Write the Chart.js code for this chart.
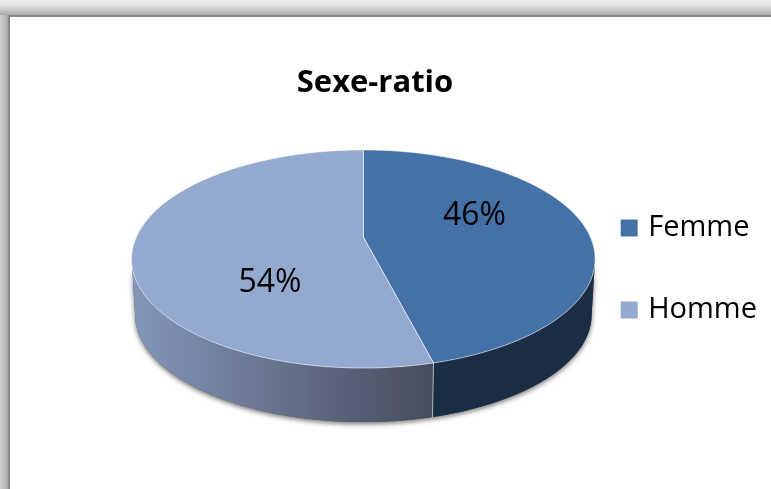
<!DOCTYPE html>
<html>
<head>
<meta charset="utf-8">
<title>Sexe-ratio</title>
<script src="https://cdn.jsdelivr.net/npm/chart.js@4/dist/chart.umd.min.js"></script>
<style>
html, body { margin: 0; height: 100%; overflow: hidden; background: #f2f2f2; }
#band-top { position: absolute; left: 0; top: 0; width: 771px; height: 15px; background: linear-gradient(#ececec, #e2e2e2 40%, #a8a8a8); }
#band-left { position: absolute; left: 0; top: 15px; width: 8px; height: 474px; background: linear-gradient(to right, #d2d2d2, #bcbcbc 60%, #a4a4a4); }
#frame { position: absolute; left: 8px; top: 15px; width: 780px; height: 500px; background: #fff; border: 2px solid #888; }
canvas { position: absolute; left: 0; top: 0; }
</style>
</head>
<body>
<div id="band-top"></div>
<div id="band-left"></div>
<div id="frame"></div>
<canvas id="pie" width="771" height="489"></canvas>
<script>
const categories = ['Femme', 'Homme'];
const shares = [46, 54];
const topColors = ['#4471A7', '#93A9CF'];
const wallColors = [['#1B2D45', '#1B2D45'], ['#464C5C', '#8396BA']];

// the disc is seen in perspective, so the centre sits above the middle of the ellipse
const view = { cy: 237, rx: 227, ry: 104.6, tilt: 0.2018, depth: 56, baseScale: 0.985 };
const labelSpots = [{ r: 0.5, dy: -15 }, { r: 0.41, dy: 40 }];

const project = (cx, theta, r = 1) => {
    const u = r * Math.sin(theta);
    const v = -r * Math.cos(theta);
    const den = 1 - view.tilt * v;
    return { x: cx + view.rx * u / den, y: view.cy + view.ry * v / den };
};

const projectBase = (cx, theta) => {
    const p = project(cx, theta);
    return {
        x: cx + (p.x - cx) * view.baseScale,
        y: view.cy + (p.y - view.cy) * view.baseScale + view.depth
    };
};

const trace = (ctx, fn, from, to, first) => {
    const steps = Math.max(2, Math.ceil(Math.abs(to - from) * 90));
    for (let i = 0; i <= steps; i++) {
        const p = fn(from + (to - from) * i / steps);
        if (i === 0 && first) ctx.moveTo(p.x, p.y);
        else ctx.lineTo(p.x, p.y);
    }
};

const pie3d = {
    id: 'pie3d',
    afterLayout(chart) {
        // title is centred on the plot and not on the canvas
        const title = chart.titleBlock;
        title.left = 0;
        title.right = 750;
    },
    beforeDatasetsDraw(chart) {
        const ctx = chart.ctx;
        const arcs = chart.getDatasetMeta(0).data;
        const cx = arcs[0].x;
        const top = t => project(cx, t);
        const base = t => projectBase(cx, t);
        const visFrom = Math.PI - Math.acos(view.tilt);
        const visTo = Math.PI + Math.acos(view.tilt);
        const spans = arcs.map(a => [a.startAngle + Math.PI / 2, a.endAngle + Math.PI / 2]);

        // soft shadow under the whole side wall
        ctx.save();
        ctx.shadowColor = 'rgba(0,0,0,0.55)';
        ctx.shadowBlur = 5;
        ctx.shadowOffsetY = 2;
        ctx.fillStyle = '#555';
        ctx.beginPath();
        trace(ctx, top, visFrom, visTo, true);
        trace(ctx, base, visTo, visFrom, false);
        ctx.closePath();
        ctx.fill();
        ctx.restore();

        // side walls
        spans.forEach((span, i) => {
            const from = Math.max(span[0], visFrom);
            const to = Math.min(span[1], visTo);
            if (to <= from) return;
            const xs = [top(from).x, top(to).x];
            const grad = ctx.createLinearGradient(Math.max(...xs), 0, Math.min(...xs), 0);
            grad.addColorStop(0, wallColors[i][0]);
            grad.addColorStop(1, wallColors[i][1]);
            ctx.fillStyle = grad;
            ctx.beginPath();
            trace(ctx, top, from, to, true);
            trace(ctx, base, to, from, false);
            ctx.closePath();
            ctx.fill();
        });

        // seam between the two walls
        spans.forEach(span => {
            if (span[0] <= visFrom || span[0] >= visTo) return;
            const a = top(span[0]);
            const b = base(span[0]);
            ctx.strokeStyle = 'rgba(255,255,255,0.6)';
            ctx.lineWidth = 1;
            ctx.beginPath();
            ctx.moveTo(a.x, a.y);
            ctx.lineTo(b.x, b.y);
            ctx.stroke();
        });

        // top face
        spans.forEach((span, i) => {
            ctx.fillStyle = topColors[i];
            ctx.strokeStyle = 'rgba(255,255,255,0.55)';
            ctx.lineWidth = 1;
            ctx.lineJoin = 'round';
            ctx.beginPath();
            ctx.moveTo(cx, view.cy);
            trace(ctx, top, span[0], span[1], false);
            ctx.closePath();
            ctx.fill();
            ctx.stroke();
        });

        // percent labels
        ctx.fillStyle = '#000';
        ctx.font = '32px "Open Sans"';
        ctx.textAlign = 'center';
        ctx.textBaseline = 'middle';
        spans.forEach((span, i) => {
            const p = project(cx, (span[0] + span[1]) / 2, labelSpots[i].r);
            ctx.fillText(shares[i] + '%', p.x, p.y + labelSpots[i].dy);
        });
        return false;
    }
};

new Chart(document.getElementById('pie'), {
    type: 'pie',
    data: {
        labels: categories,
        // the border only thickens the legend swatch, which brings its text closer
        datasets: [{ data: shares, backgroundColor: topColors, borderColor: topColors, borderWidth: 8 }]
    },
    plugins: [pie3d],
    options: {
        responsive: false,
        animation: false,
        layout: { padding: { left: 155, right: 4, top: 65, bottom: 16 } },
        plugins: {
            tooltip: { enabled: false },
            title: {
                display: true,
                text: 'Sexe-ratio',
                color: '#000',
                font: { family: '"Open Sans"', size: 31, weight: 'bold' },
                padding: { top: 0, bottom: 0 }
            },
            legend: {
                position: 'right',
                labels: {
                    boxWidth: 9,
                    boxHeight: 9,
                    padding: 53,
                    color: '#000',
                    font: { family: '"Open Sans"', size: 29 }
                }
            }
        }
    }
});
</script>
</body>
</html>
